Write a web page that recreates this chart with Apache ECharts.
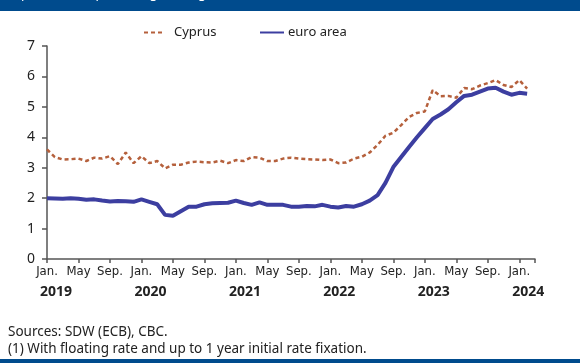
<!DOCTYPE html>
<html>
<head>
<meta charset="utf-8">
<script src="https://cdn.jsdelivr.net/npm/echarts@6/dist/echarts.min.js"></script>
<style>
  html, body { margin: 0; padding: 0; background: #fff; }
  #chart { width: 580px; height: 363px; }
</style>
</head>
<body>
<div id="chart"></div>
<script>
// Monthly observations, Jan 2019 – Feb 2024 (axis runs one month further)
const months = [
  '2019-01','2019-02','2019-03','2019-04','2019-05','2019-06','2019-07','2019-08','2019-09','2019-10','2019-11','2019-12',
  '2020-01','2020-02','2020-03','2020-04','2020-05','2020-06','2020-07','2020-08','2020-09','2020-10','2020-11','2020-12',
  '2021-01','2021-02','2021-03','2021-04','2021-05','2021-06','2021-07','2021-08','2021-09','2021-10','2021-11','2021-12',
  '2022-01','2022-02','2022-03','2022-04','2022-05','2022-06','2022-07','2022-08','2022-09','2022-10','2022-11','2022-12',
  '2023-01','2023-02','2023-03','2023-04','2023-05','2023-06','2023-07','2023-08','2023-09','2023-10','2023-11','2023-12',
  '2024-01','2024-02','2024-03'
];

// Tick labels shown every four months, years under each January
const monthTickLabels = { '01': 'Jan.', '05': 'May', '09': 'Sep.' };
const yearLabels = ['2019', '2020', '2021', '2022', '2023', '2024'];

const cyprus = [
  3.60, 3.35, 3.27, 3.28, 3.30, 3.22, 3.33, 3.30, 3.38, 3.12, 3.50, 3.15,
  3.38, 3.15, 3.22, 2.98, 3.10, 3.10, 3.17, 3.20, 3.18, 3.17, 3.23, 3.15,
  3.25, 3.22, 3.35, 3.33, 3.22, 3.22, 3.30, 3.33, 3.30, 3.28, 3.27, 3.25,
  3.27, 3.15, 3.17, 3.30, 3.36, 3.50, 3.75, 4.05, 4.15, 4.40, 4.67, 4.80,
  4.85, 5.55, 5.35, 5.36, 5.30, 5.62, 5.58, 5.70, 5.78, 5.88, 5.72, 5.65,
  5.88, 5.60
];

const euroArea = [
  2.00, 1.99, 1.98, 2.00, 1.98, 1.95, 1.96, 1.92, 1.89, 1.91, 1.90, 1.88,
  1.96, 1.88, 1.80, 1.45, 1.42, 1.57, 1.72, 1.72, 1.80, 1.83, 1.84, 1.85,
  1.92, 1.84, 1.78, 1.86, 1.78, 1.78, 1.78, 1.72, 1.72, 1.74, 1.73, 1.78,
  1.72, 1.69, 1.74, 1.72, 1.80, 1.92, 2.10, 2.50, 3.02, 3.35, 3.68, 4.00,
  4.30, 4.60, 4.75, 4.92, 5.15, 5.36, 5.40, 5.50, 5.60, 5.63, 5.50, 5.40,
  5.46, 5.43
];

const yTicks = { min: 0, max: 7, interval: 1 };

const BLUE = '#004b8d';
const CYPRUS_COLOR = '#b5603c';
const EURO_COLOR = '#3c3ea0';
const TEXT = '#222';
const FONT = "'Noto Sans', 'Open Sans', sans-serif";
const NARROW = "'Liberation Sans Narrow', 'DejaVu Sans Condensed', sans-serif";

const chart = echarts.init(document.getElementById('chart'), null, { renderer: 'canvas' });

chart.setOption({
  animation: false,
  backgroundColor: '#fff',
  grid: { left: 47, right: 45, top: 46, bottom: 104, containLabel: false },
  legend: [
    {
      data: ['Cyprus'],
      left: 143, top: 26, padding: 0,
      itemWidth: 19, itemHeight: 3,
      itemStyle: { opacity: 0 },
      textStyle: { fontFamily: FONT, fontSize: 13, color: TEXT, padding: [0, 0, 0, 6] }
    },
    {
      data: ['euro area'],
      left: 259, top: 26, padding: 0,
      itemWidth: 24, itemHeight: 4,
      itemStyle: { opacity: 0 },
      textStyle: { fontFamily: FONT, fontSize: 13, color: TEXT, padding: [0, 0, 0, -1] }
    }
  ],
  xAxis: [
    {
      type: 'category',
      data: months,
      boundaryGap: false,
      axisLine: { lineStyle: { color: '#555', width: 1.5 } },
      axisTick: { show: true, interval: 3, length: 4, lineStyle: { color: '#555', width: 1.5 } },
      axisLabel: {
        interval: 3,
        showMinLabel: true,
        showMaxLabel: true,
        hideOverlap: false,
        margin: 6,
        color: TEXT,
        fontFamily: NARROW,
        fontSize: 13,
        formatter: function (value) {
          return monthTickLabels[value.split('-')[1]] || '';
        }
      },
      splitLine: { show: false }
    },
    {
      // year row beneath the month ticks
      type: 'category',
      data: months,
      position: 'bottom',
      offset: 26,
      boundaryGap: false,
      axisLine: { show: false },
      axisTick: { show: false },
      axisLabel: {
        interval: 11,
        showMinLabel: true,
        showMaxLabel: true,
        hideOverlap: false,
        margin: 0,
        formatter: function (value) {
          const parts = value.split('-');
          return parts[1] === '01' && yearLabels.indexOf(parts[0]) >= 0 ? '{y|' + parts[0] + '}' : '';
        },
        rich: {
          y: { fontFamily: FONT, fontSize: 14, fontWeight: 'bold', color: TEXT, padding: [0, 0, 0, 18] }
        }
      },
      splitLine: { show: false }
    }
  ],
  yAxis: {
    type: 'value',
    min: yTicks.min,
    max: yTicks.max,
    interval: yTicks.interval,
    axisLine: { show: true, lineStyle: { color: '#555', width: 1.5 } },
    axisTick: { show: true, length: 5, lineStyle: { color: '#555', width: 1.5 } },
    axisLabel: { margin: 12, color: TEXT, fontFamily: FONT, fontSize: 14, showMinLabel: true },
    splitLine: { show: false }
  },
  series: [
    {
      name: 'Cyprus',
      type: 'line',
      data: cyprus,
      symbol: 'none',
      color: CYPRUS_COLOR,
      lineStyle: { color: CYPRUS_COLOR, width: 2.5, type: [4, 3] },
      z: 3
    },
    {
      name: 'euro area',
      type: 'line',
      data: euroArea,
      symbol: 'none',
      color: EURO_COLOR,
      lineStyle: { color: EURO_COLOR, width: 4 },
      z: 2
    }
  ],
  graphic: [
    { type: 'rect', left: 0, top: 0, shape: { width: 580, height: 11 }, style: { fill: BLUE }, silent: true },
    {
      type: 'text', left: 3, top: -12,
      style: { text: '(% per annum, percentage change)', fill: '#fff', font: '13px ' + FONT },
      silent: true
    },
    {
      type: 'text', left: 8, top: 325,
      style: { text: 'Sources: SDW (ECB), CBC.', fill: TEXT, font: '13.5px ' + FONT },
      silent: true
    },
    {
      type: 'text', left: 8, top: 342,
      style: { text: '(1) With floating rate and up to 1 year initial rate fixation.', fill: TEXT, font: '13.5px ' + FONT },
      silent: true
    },
    { type: 'rect', left: 0, top: 359, shape: { width: 580, height: 4 }, style: { fill: BLUE }, silent: true }
  ]
});
</script>
</body>
</html>
